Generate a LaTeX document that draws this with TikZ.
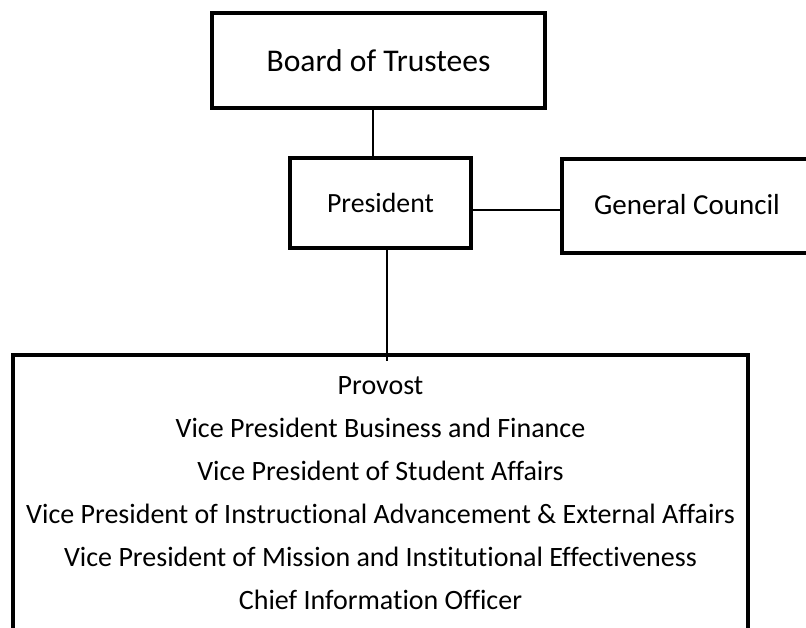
\documentclass[tikz,border=0pt]{standalone}
\usepackage{fontspec}
\setmainfont[Ligatures=NoCommon]{Carlito}
\begin{document}
\begin{tikzpicture}[x=1pt,y=-1pt,
  box/.style={draw=black,line width=4.5pt,rectangle,inner sep=0pt},
  conn/.style={draw=black,line width=1.6pt},
  lbl/.style={inner sep=0pt,text=black}]
\useasboundingbox (0,0) rectangle (806,628);
\clip (0,0) rectangle (806,628);
\node[box,minimum width=333pt,minimum height=95pt,font=\fontsize{31.6}{36}\selectfont] (board) at (378.5,60.5) {Board of Trustees};
\node[box,minimum width=181pt,minimum height=90pt,font=\fontsize{27.8}{32}\selectfont] (pres) at (380.5,203) {President};
\node[box,minimum width=278pt,minimum height=94pt] (gc) at (701,206) {};
\node[lbl,font=\fontsize{29}{34}\selectfont] (gct) at (687,205) {General Council};
\node[box,minimum width=735pt,minimum height=345pt] (bot) at (380.5,527.5) {};
\node[lbl,anchor=base,align=center,font=\fontsize{28}{43}\selectfont] (bott) at (380.5,609)
  {Provost\\Vice President Business and Finance\\Vice President of Student Affairs\\Vice President of Instructional Advancement \& External Affairs\\Vice President of Mission and Institutional Effectiveness\\Chief Information Officer};
\draw[conn] ([xshift=-5.5pt]board.south) -- ([xshift=-7.5pt]pres.north);
\draw[conn] ([xshift=-4pt,yshift=-7pt]pres.east) -- ([yshift=-4pt]gc.west);
\draw[conn] ([xshift=6.5pt]pres.south) -- ([xshift=6.5pt,yshift=-8pt]bot.north);
\end{tikzpicture}
\end{document}
